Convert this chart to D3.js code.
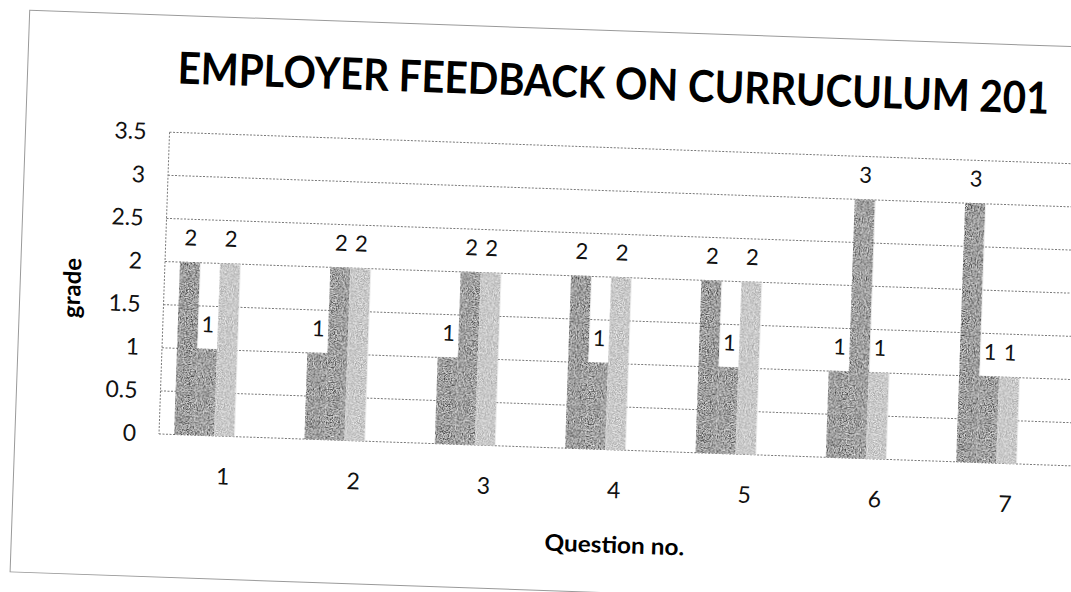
<!DOCTYPE html>
<html>
<head>
<meta charset="utf-8">
<script src="https://cdnjs.cloudflare.com/ajax/libs/d3/7.8.5/d3.min.js"></script>
<style>
  body { margin: 0; background: #fff; }
  svg { display: block; }
</style>
</head>
<body>
<svg width="1071" height="592"></svg>
<script>
(function (d3) {
  'use strict';

  // Chart data
  const categories = ['1', '2', '3', '4', '5', '6', '7'];
  const series1 = [2, 1, 1, 2, 2, 1, 3];
  const series2 = [1, 2, 2, 1, 1, 3, 1];
  const series3 = [2, 2, 2, 2, 2, 1, 1];
  const yTicks = [0, 0.5, 1, 1.5, 2, 2.5, 3, 3.5];
  const titleText = 'EMPLOYER FEEDBACK ON CURRUCULUM 201';

  // the sheet had 5 series slots, only 3 filled
  const seriesList = [series1, series2, series3];
  const seriesColors = ['#434343', '#4e4e4e', '#aaaaaa'];
  const slotCount = 5;

  const svg = d3.select('svg');

  // grainy look of the printed bars
  const grain = svg.append('defs').append('filter')
    .attr('id', 'grain')
    .attr('x', 0).attr('y', 0).attr('width', 1).attr('height', 1);
  grain.append('feTurbulence')
    .attr('type', 'fractalNoise')
    .attr('baseFrequency', 0.85)
    .attr('numOctaves', 2)
    .attr('seed', 4)
    .attr('result', 'noise');
  grain.append('feColorMatrix')
    .attr('in', 'noise')
    .attr('type', 'matrix')
    .attr('values', '0 0 0 0 1  0 0 0 0 1  0 0 0 0 1  1.7 0 0 0 -0.55')
    .attr('result', 'specks');
  grain.append('feComposite')
    .attr('in', 'specks')
    .attr('in2', 'SourceGraphic')
    .attr('operator', 'in')
    .attr('result', 'sp');
  const merge = grain.append('feMerge');
  merge.append('feMergeNode').attr('in', 'SourceGraphic');
  merge.append('feMergeNode').attr('in', 'sp');

  // The scan is tilted a little, so everything sits in one rotated group
  const plot = { left: 159, right: 1072, top: 132, bottom: 434 };
  const chartG = svg.append('g')
    .attr('transform', `rotate(2, ${plot.left}, ${plot.bottom})`);

  const font = 'Lato, "Open Sans", sans-serif';

  // Outer frame
  chartG.append('rect')
    .attr('x', 15)
    .attr('y', 15)
    .attr('width', 1120)
    .attr('height', 562)
    .attr('fill', 'none')
    .attr('stroke', '#9a9a9a')
    .attr('stroke-width', 1);

  // Scales
  const x0 = d3.scaleBand()
    .domain(categories)
    .range([plot.left, plot.right]);

  const x1 = d3.scaleBand()
    .domain(d3.range(slotCount))
    .range([0, x0.bandwidth()])
    .paddingInner(0)
    .paddingOuter(0.75);

  const y = d3.scaleLinear()
    .domain([0, 3.5])
    .range([plot.bottom, plot.top]);

  // Grid lines
  chartG.append('g')
    .selectAll('line')
    .data(yTicks)
    .enter().append('line')
      .attr('x1', plot.left)
      .attr('x2', plot.right)
      .attr('y1', d => y(d))
      .attr('y2', d => y(d))
      .attr('stroke', '#7a7a7a')
      .attr('stroke-width', 1)
      .attr('stroke-dasharray', '2,1.5');

  // left axis line
  chartG.append('line')
    .attr('x1', plot.left)
    .attr('x2', plot.left)
    .attr('y1', plot.top)
    .attr('y2', plot.bottom)
    .attr('stroke', '#7a7a7a')
    .attr('stroke-dasharray', '2,1.5');

  // Y axis, no domain line and no ticks
  const yAxisG = chartG.append('g')
    .attr('transform', `translate(${plot.left - 23}, 0)`)
    .call(d3.axisLeft(y).tickValues(yTicks).tickSize(0).tickPadding(0).tickFormat(d3.format('')));
  yAxisG.select('.domain').remove();
  yAxisG.selectAll('text')
    .attr('font-family', font)
    .attr('font-size', 23)
    .attr('fill', '#111');

  // X axis labels
  const xAxisG = chartG.append('g')
    .attr('transform', `translate(0, ${plot.bottom})`)
    .call(d3.axisBottom(x0).tickSize(0).tickPadding(32));
  xAxisG.select('.domain').remove();
  xAxisG.selectAll('text')
    .attr('font-family', font)
    .attr('font-size', 23)
    .attr('fill', '#111');

  // Bars, one group for each question
  const groups = chartG.append('g')
    .selectAll('g')
    .data(categories)
    .enter().append('g')
      .attr('transform', d => `translate(${x0(d)}, 0)`);

  const barData = (cat, i) => seriesList.map((s, k) => ({ k, v: s[i] }));

  groups.selectAll('rect')
    .data(barData)
    .enter().append('rect')
      .attr('x', d => x1(d.k))
      .attr('y', d => y(d.v))
      .attr('width', x1.bandwidth())
      .attr('height', d => y(0) - y(d.v))
      .attr('fill', d => seriesColors[d.k])
      .attr('filter', 'url(#grain)');

  // Value labels above each bar
  groups.selectAll('text')
    .data(barData)
    .enter().append('text')
      .attr('x', d => x1(d.k) + x1.bandwidth() / 2)
      .attr('y', d => y(d.v) - 17)
      .attr('text-anchor', 'middle')
      .attr('font-family', font)
      .attr('font-size', 22)
      .attr('fill', '#111')
      .text(d => d.v);

  // Title
  chartG.append('text')
    .attr('x', 165)
    .attr('y', 83)
    .attr('font-family', font)
    .attr('font-weight', 'bold')
    .attr('font-size', 44)
    .attr('textLength', 872)
    .attr('lengthAdjust', 'spacingAndGlyphs')
    .attr('fill', '#000')
    .text(titleText);

  // Axis titles
  chartG.append('text')
    .attr('transform', 'translate(67, 291) rotate(-90)')
    .attr('text-anchor', 'middle')
    .attr('dy', '0.35em')
    .attr('font-family', font)
    .attr('font-weight', 'bold')
    .attr('font-size', 24)
    .attr('textLength', 60)
    .attr('lengthAdjust', 'spacingAndGlyphs')
    .attr('fill', '#000')
    .text('grade');

  chartG.append('text')
    .attr('x', 618)
    .attr('y', 529)
    .attr('text-anchor', 'middle')
    .attr('dy', '0.35em')
    .attr('font-family', font)
    .attr('font-weight', 'bold')
    .attr('font-size', 23)
    .attr('textLength', 140)
    .attr('lengthAdjust', 'spacingAndGlyphs')
    .attr('fill', '#000')
    .text('Question no.');

}(d3));
</script>
</body>
</html>
